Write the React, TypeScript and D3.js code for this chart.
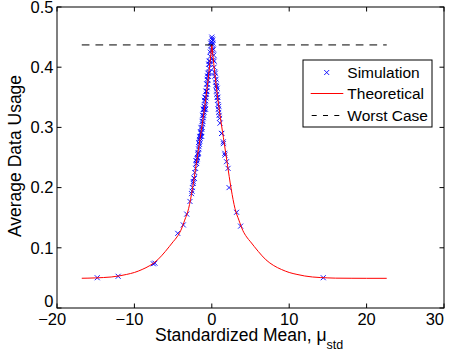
import React from "react";
import * as d3 from "d3";

const W = 453;
const H = 358;

const xTicks = [-20, -10, 0, 10, 20, 30];
const yTicks = [0, 0.1, 0.2, 0.3, 0.4, 0.5];

const theoX = [-16.8, -16, -15, -14, -13, -12, -11, -10, -9, -8, -7, -6, -5, -4.5, -4, -3.5, -3, -2.5, -2, -1.5, -1, -0.5, 0,
  0.5, 1, 1.5, 2, 2.5, 3, 3.5, 4, 4.5, 5, 6, 7, 8, 9, 10, 11, 12, 13, 14, 15, 16, 18, 20, 22.6];
const theoY = [0.0494, 0.0496, 0.05, 0.0506, 0.0515, 0.0532, 0.0558, 0.059, 0.064, 0.0705, 0.08, 0.094, 0.11, 0.118, 0.129, 0.146, 0.165, 0.198, 0.24, 0.283, 0.326, 0.377, 0.437,
  0.377, 0.326, 0.283, 0.24, 0.198, 0.165, 0.146, 0.129, 0.118, 0.11, 0.094, 0.08, 0.0705, 0.064, 0.059, 0.0558, 0.0532, 0.0515, 0.0506, 0.05, 0.0496, 0.0494, 0.0493, 0.0493];

const simX = [
  0.05, 0.15, -0.1, 0.2, -0.05, 0.1, 0.0, 0.12,
  -0.1, -0.2, -0.25, -0.3, -0.35, -0.4, -0.45, -0.5, -0.55, -0.6, -0.65, -0.7, -0.75, -0.8, -0.85, -0.9, -0.95, -1.0,
  -1.05, -1.1, -1.15, -1.2, -1.25, -1.3, -1.35, -1.4, -1.45, -1.5, -1.55, -1.6, -1.65, -1.7, -1.75, -1.8, -1.9, -1.95,
  -2.0, -2.1, -2.2, -2.3, -2.4, -2.5, -2.55, -2.62,
  -0.55, -0.95, -1.2, -1.6, -0.4, -0.2, -1.3, -0.8, -0.65, -1.05, -1.45, -0.3, -0.7, -1.85, -2.26, -2.39, -1.76, -1.96,
  -0.35, -0.6, -0.9, -1.1, -1.4, -1.7, -2.05, -0.15, -0.5, -0.85, -1.25, -1.55, -1.0, -0.75,
  -2.82, -3.24, -3.68, -4.4, -7.56, -7.35, -12.1, -14.8,
  0.1, 0.2, 0.3, 0.35, 0.4, 0.5, 0.55, 0.6, 0.65, 0.7, 0.75, 0.8, 0.85, 0.9, 0.95, 1.0,
  0.45, 0.62, 0.78, 0.3, 0.9, 0.25, 0.7, 0.55,
  1.06, 1.28, 1.5, 1.7, 1.9, 2.1, 2.23, 1.27, 1.48, 1.68,
  3.2, 3.72, 14.4,
];
const simY = [
  0.447, 0.44, 0.436, 0.43, 0.442, 0.437, 0.45, 0.445,
  0.428, 0.418, 0.41, 0.405, 0.398, 0.39, 0.385, 0.378, 0.372, 0.366, 0.36, 0.355, 0.349, 0.344, 0.338, 0.334, 0.33, 0.325,
  0.32, 0.316, 0.31, 0.306, 0.3, 0.297, 0.292, 0.29, 0.285, 0.282, 0.277, 0.272, 0.268, 0.264, 0.258, 0.255, 0.248, 0.244,
  0.24, 0.232, 0.225, 0.216, 0.207, 0.2, 0.194, 0.19,
  0.385, 0.345, 0.32, 0.28, 0.405, 0.425, 0.285, 0.33, 0.372, 0.33, 0.292, 0.392, 0.36, 0.25, 0.215, 0.21, 0.257, 0.24,
  0.41, 0.38, 0.35, 0.33, 0.3, 0.275, 0.245, 0.44, 0.39, 0.35, 0.31, 0.285, 0.335, 0.36,
  0.177, 0.156, 0.138, 0.124, 0.0735, 0.0745, 0.0527, 0.0503,
  0.428, 0.412, 0.4, 0.392, 0.385, 0.375, 0.37, 0.36, 0.355, 0.35, 0.345, 0.338, 0.33, 0.325, 0.32, 0.315,
  0.39, 0.368, 0.35, 0.41, 0.335, 0.42, 0.365, 0.38,
  0.307, 0.29, 0.273, 0.254, 0.243, 0.232, 0.2, 0.29, 0.276, 0.257,
  0.159, 0.136, 0.0503,
];

const worstCaseValue = 0.437;
const worstCaseRange = [-16.8, 22.6];

const legendItems = ["Simulation", "Theoretical", "Worst Case"];

const FONT = "'Liberation Sans', Arial, Helvetica, sans-serif";

export default function App() {
  const left = 57, right = 444, top = 7, bottom = 308;
  const x = d3.scaleLinear().domain([-20, 30]).range([left, right]);
  const y = d3.scaleLinear().domain([0, 0.5]).range([bottom, top]);

  const pts = theoX.map((v, i) => [v, theoY[i]] as [number, number]);
  const line = d3.line<[number, number]>().x((d) => x(d[0])).y((d) => y(d[1])).curve(d3.curveMonotoneX);
  const leftPath = line(pts.filter((p) => p[0] <= 0)) || "";
  const rightPath = line(pts.filter((p) => p[0] >= 0)) || "";

  const s = 2.5;
  const cross = `M${-s},${-s}L${s},${s}M${-s},${s}L${s},${-s}`;
  const tickLen = 4.5;

  const lx = 303, ly = 60, lw = 129, lh = 67;
  const rowY = [72.5, 93.5, 115.5];

  return (
    <div style={{ position: "fixed", left: 0, top: 0 }}>
      <svg width={W} height={H} style={{ display: "block", background: "#fff" }} fontFamily={FONT}>
        <rect x={0} y={0} width={W} height={H} fill="#fff" />
        {/* simulation markers */}
        <g stroke="#0000ff" strokeWidth={0.9} fill="none">
          {simX.map((v, i) => (
            <path key={i} d={cross} transform={`translate(${x(v)},${y(simY[i])})`} />
          ))}
        </g>
        {/* theoretical */}
        <path d={leftPath} fill="none" stroke="#ff0000" strokeWidth={1} />
        <path d={rightPath} fill="none" stroke="#ff0000" strokeWidth={1} />
        {/* worst case */}
        <line x1={x(worstCaseRange[0])} x2={x(worstCaseRange[1])} y1={y(worstCaseValue)} y2={y(worstCaseValue)}
          stroke="#000" strokeWidth={1} strokeDasharray="7.7 6" />
        {/* axes box */}
        <rect x={left} y={top} width={right - left} height={bottom - top} fill="none" stroke="#000" strokeWidth={1} />
        {xTicks.map((t) => (
          <g key={"xt" + t}>
            <line x1={x(t)} x2={x(t)} y1={bottom} y2={bottom - tickLen} stroke="#000" />
            <line x1={x(t)} x2={x(t)} y1={top} y2={top + tickLen} stroke="#000" />
          </g>
        ))}
        {yTicks.map((t) => (
          <g key={"yt" + t}>
            <line x1={left} x2={left + tickLen} y1={y(t)} y2={y(t)} stroke="#000" />
            <line x1={right} x2={right - tickLen} y1={y(t)} y2={y(t)} stroke="#000" />
          </g>
        ))}
        {/* x tick labels */}
        {xTicks.map((t) => {
          const digits = String(Math.abs(t));
          const neg = t < 0;
          const fs = 16.5;
          const dw = digits.length * 0.556 * fs;
          let cx = x(t);
          if (cx + dw / 2 > right) cx = right - dw / 2;
          return (
            <text key={"xl" + t} x={cx + dw / 2} y={325} fontSize={fs} textAnchor="end" fill="#000">
              {neg ? "\u2212" + digits : digits}
            </text>
          );
        })}
        {/* y tick labels */}
        {yTicks.map((t) => (
          <text key={"yl" + t} x={53.5} y={t === 0 ? y(t) - 7 : y(t)} dy="0.35em" fontSize={16.5} textAnchor="end" fill="#000">
            {t === 0 ? "0" : d3.format(".1f")(t)}
          </text>
        ))}
        {/* axis labels */}
        <text x={155} y={341} fontSize={17.5} fill="#000">
          Standardized Mean, μ
          <tspan fontSize={12.5} dy={8}>std</tspan>
        </text>
        <text transform={`translate(21,156) rotate(-90)`} textAnchor="middle" fontSize={17.5} fill="#000">
          Average Data Usage
        </text>
        {/* legend */}
        <rect x={lx} y={ly} width={lw} height={lh} fill="#fff" stroke="#000" strokeWidth={1} />
        <path d={cross} transform={`translate(326.7,${rowY[0]})`} stroke="#0000ff" strokeWidth={0.9} fill="none" />
        <line x1={310.7} x2={343.3} y1={rowY[1]} y2={rowY[1]} stroke="#ff0000" strokeWidth={1} />
        <line x1={310.7} x2={343.3} y1={rowY[2]} y2={rowY[2]} stroke="#000" strokeWidth={1} strokeDasharray="5 6.3" strokeDashoffset={-1} />
        {legendItems.map((t, i) => (
          <text key={t} x={347.3} y={rowY[i]} dy="0.36em" fontSize={15.5} fill="#000">{t}</text>
        ))}
      </svg>
    </div>
  );
}
